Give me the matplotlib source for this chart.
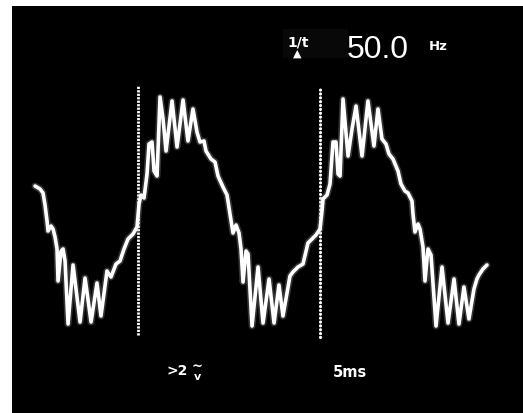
import matplotlib
matplotlib.use("Agg")
import matplotlib.pyplot as plt
from matplotlib.patches import Rectangle

# trace: time in ms (0 = first cursor), voltage in V
t_ms = [-11.32, -10.77, -10.44, -10.22, -10.00, -9.89, -9.56, -9.34, -9.12, -8.90,
        -8.79, -8.46, -8.24, -8.02, -7.69, -7.14, -6.37, -5.82, -5.16, -4.51,
        -4.07, -3.41, -2.97, -2.42, -1.98, -1.54, -1.10, -0.55, -0.11, 0.11,
        0.33, 0.66, 0.99, 1.21, 1.54, 1.76, 2.09, 2.42, 2.75, 3.08,
        3.74, 4.29, 4.95, 5.49, 6.04, 6.48, 6.81, 7.25, 7.47, 8.02,
        8.46, 8.79, 9.34, 9.78, 10.11, 10.44, 10.77, 11.10, 11.32, 11.54,
        11.87, 12.09, 12.53, 13.19, 13.74, 14.40, 14.95, 15.49, 15.93, 16.70,
        17.03, 17.58, 18.13, 18.68, 19.12, 19.56, 20.00, 20.22, 20.33, 20.77,
        21.10, 21.43, 21.76, 21.98, 22.20, 22.53, 23.08, 23.52, 23.96, 24.62,
        25.27, 25.93, 26.37, 26.81, 27.25, 27.58, 28.02, 28.57, 28.90, 29.34,
        29.67, 30.11, 30.22, 30.44, 30.77, 30.99, 31.32, 31.54, 31.87, 32.20,
        32.75, 33.41, 34.07, 34.73, 35.27, 35.82, 36.37, 36.92, 37.25, 37.47,
        37.91, 38.35]
volts = [1.25, 1.10, 0.90, 0.30, -0.50, -1.00, -0.75, -0.90, -1.30, -1.90,
         -3.50, -2.00, -1.90, -2.50, -5.65, -2.70, -5.55, -3.35, -5.55, -3.60,
         -5.25, -3.00, -3.30, -2.65, -2.50, -1.90, -1.40, -1.15, -0.80, 0.35,
         0.80, 0.65, 1.85, 3.35, 3.45, 2.00, 1.75, 5.70, 4.60, 3.00,
         5.50, 3.20, 5.55, 3.50, 5.10, 3.95, 3.45, 3.50, 3.00, 2.60,
         2.45, 1.75, 1.20, 0.80, -0.15, -1.10, -0.70, -1.10, -1.90, -3.55,
         -2.00, -2.15, -5.75, -2.80, -5.60, -3.40, -5.60, -3.70, -5.25, -3.25,
         -3.05, -2.80, -2.65, -1.60, -1.40, -1.20, -0.90, 0.00, 0.60, 0.80,
         1.35, 3.45, 3.45, 1.85, 1.75, 5.60, 2.75, 4.10, 5.25, 2.75,
         5.50, 3.25, 5.10, 3.60, 3.35, 2.85, 2.60, 2.00, 1.35, 1.00,
         0.90, 0.50, -0.15, -1.05, -0.65, -0.90, -1.80, -3.50, -1.90, -2.20,
         -5.75, -2.80, -5.60, -3.40, -5.65, -3.80, -5.40, -3.90, -3.40, -3.20,
         -2.90, -2.70]

cursor_t = [0.0, 20.0]
freq_label = "50.0"
volt_label = ">2"
time_label = "5ms"

W, H = 523, 414


def fx(x):
    return x / W


def fy(y):
    return 1 - y / H


fig = plt.figure(figsize=(W / 100, H / 100), dpi=100, facecolor="white")
ax = fig.add_axes([fx(12), 0, (W - 12) / W, (H - 7) / H])
ax.set_facecolor("black")
ax.set_xlim(-13.85, 42.31)
ax.set_ylim(-10.1, 10.25)
ax.set_xticks([])
ax.set_yticks([])
for s in ax.spines.values():
    s.set_visible(False)

# cursors
ax.vlines(cursor_t[0], -6.2, 6.25, color="white", lw=2,
          linestyles=[(0, (0.8, 0.45))])
ax.vlines(cursor_t[1], -6.3, 6.25, color="white", lw=2.3,
          linestyles=[(0, (0.01, 1.2))], capstyle="round")

# trace with a little glow
ax.plot(t_ms, volts, color="#aaaaaa", lw=5, alpha=0.3,
        solid_joinstyle="round", solid_capstyle="round")
ax.plot(t_ms, volts, color="white", lw=2.6,
        solid_joinstyle="round", solid_capstyle="round")

# readout box, barely lighter than the screen
fig.patches.append(Rectangle((fx(283), fy(58)), (347 - 283) / W, 28 / H,
                             transform=fig.transFigure, color="#080808", zorder=0.5))
fig.text(fx(287), fy(47), "1/t", color="white", fontsize=10, fontweight="bold",
         family="DejaVu Sans", va="baseline")
fig.text(fx(297), fy(57), "\u25b2", color="white", fontsize=8,
         family="DejaVu Sans", va="baseline", ha="center")
fig.text(fx(347), fy(58), freq_label, color="white", fontsize=23,
         family="Liberation Sans", va="baseline")
fig.text(fx(429), fy(50), "Hz", color="white", fontsize=9.5, fontweight="bold",
         family="DejaVu Sans", va="baseline")

fig.text(fx(166), fy(375), volt_label, color="white", fontsize=10, fontweight="bold",
         family="DejaVu Sans", va="baseline")
fig.text(fx(197), fy(370), "~", color="white", fontsize=9.5, fontweight="bold",
         family="DejaVu Sans", va="baseline", ha="center")
fig.text(fx(197), fy(380), "v", color="white", fontsize=8, fontweight="bold",
         family="DejaVu Sans", va="baseline", ha="center")
fig.text(fx(333), fy(377), time_label, color="white", fontsize=10.5, fontweight="bold",
         family="DejaVu Sans", va="baseline")

fig.savefig("out.png", dpi=100, facecolor="white")
